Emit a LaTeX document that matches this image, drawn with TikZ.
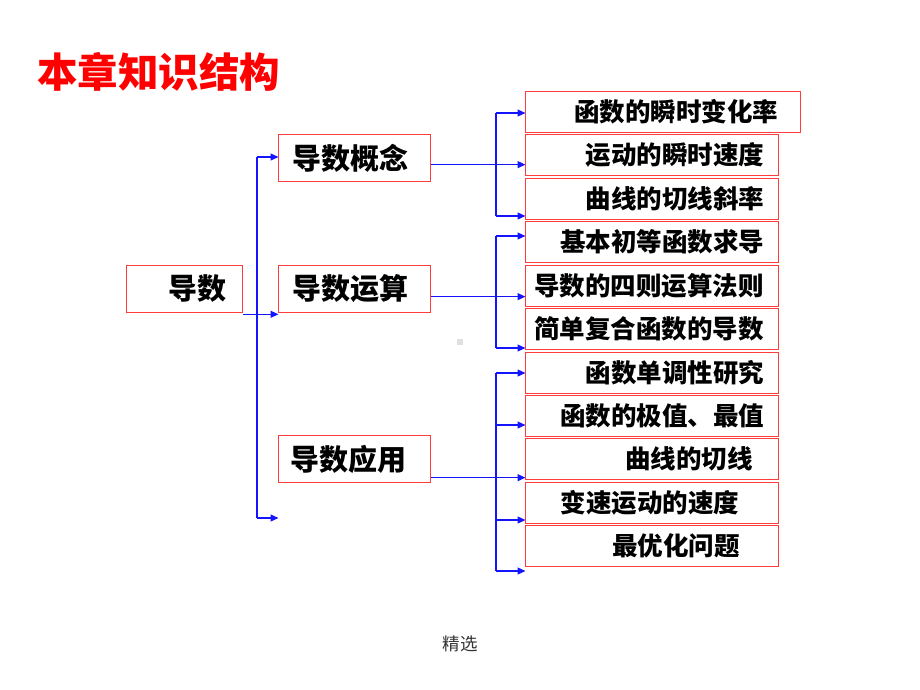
\documentclass[tikz,border=0pt]{standalone}
\usepackage{fontspec}
\setmainfont{Noto Sans CJK SC}
\usetikzlibrary{arrows.meta}
\definecolor{boxred}{RGB}{255,60,60}
\definecolor{lineblue}{RGB}{20,20,255}
\tikzset{
  box/.style={draw=boxred, line width=1.3pt, inner sep=0pt, anchor=north west},
  lbl/.style={inner sep=0pt, font=\bfseries\fontsize{29}{29}\selectfont},
  rlbl/.style={inner sep=0pt, font=\bfseries\fontsize{25.5}{25.5}\selectfont},
  bl/.style={draw=lineblue, line width=1.2pt},
  arr/.style={bl, -{Triangle[length=8pt,width=7pt]}, shorten >=-0.5pt},
}
\begin{document}
\begin{tikzpicture}[x=1pt,y=-1pt]
\useasboundingbox (0,0) rectangle (920,690);
% title
\node[anchor=west, inner sep=0pt, text=red, font=\bfseries\fontsize{40.5}{40.5}\selectfont] (title) at (37,72) {本章知识结构};
% left boxes
\node[box, minimum width=116, minimum height=47] (d) at (126,265) {};
\node[lbl] (dt) at (197,289) {导数};
\node[box, minimum width=152, minimum height=47] (c1) at (278,134) {};
\node[lbl] (c1t) at (350,158) {导数概念};
\node[box, minimum width=152, minimum height=47] (c2) at (278,265) {};
\node[lbl] (c2t) at (350,289) {导数运算};
\node[box, minimum width=152, minimum height=47] (c3) at (278,435) {};
\node[lbl] (c3t) at (348,459) {导数应用};
% right boxes
\node[box, minimum width=275, minimum height=41] (r1) at (525,91) {};
\node[rlbl] (r1t) at (676,112) {函数的瞬时变化率};
\node[box, minimum width=253, minimum height=41] (r2) at (525,134) {};
\node[rlbl] (r2t) at (675,155) {运动的瞬时速度};
\node[box, minimum width=253, minimum height=41] (r3) at (525,178) {};
\node[rlbl] (r3t) at (675,199) {曲线的切线斜率};
\node[box, minimum width=253, minimum height=41] (r4) at (525,221) {};
\node[rlbl] (r4t) at (662,242) {基本初等函数求导};
\node[box, minimum width=253, minimum height=41] (r5) at (525,265) {};
\node[rlbl] (r5t) at (649,286) {导数的四则运算法则};
\node[box, minimum width=253, minimum height=41] (r6) at (525,308) {};
\node[rlbl] (r6t) at (649,329) {简单复合函数的导数};
\node[box, minimum width=253, minimum height=41] (r7) at (525,352) {};
\node[rlbl] (r7t) at (675,373) {函数单调性研究};
\node[box, minimum width=253, minimum height=41] (r8) at (525,395) {};
\node[rlbl] (r8t) at (662,416) {函数的极值、最值};
\node[box, minimum width=253, minimum height=41] (r9) at (525,438) {};
\node[rlbl] (r9t) at (689,459) {曲线的切线};
\node[box, minimum width=253, minimum height=41] (r10) at (525,482) {};
\node[rlbl] (r10t) at (650,503) {变速运动的速度};
\node[box, minimum width=253, minimum height=41] (r11) at (525,525) {};
\node[rlbl] (r11t) at (676,546) {最优化问题};
% footer and mark
\node[inner sep=0pt, font=\fontsize{17.5}{17.5}\selectfont, text=black!80] (foot) at (460,644) {精选};
\fill[black!12] (457,339) rectangle (463,345);
% trunk
\coordinate (ta) at (257,157);
\coordinate (tb) at (257,518);
\coordinate (te) at (278,518);
\draw[bl] (ta) -- (tb);
\draw[arr] (ta) -- (ta -| c1.west);
\draw[arr] ([yshift=-1pt]d.south east) -- ([yshift=-1pt]c2.south west);
\draw[arr] (tb) -- (te);
% group 1
\coordinate (c1o) at ([yshift=-6.5pt]c1.east);
\draw[arr] (c1o) -- (c1o -| r2.west);
\coordinate (g1a) at (496,113);
\coordinate (g1b) at (496,216);
\draw[bl] (g1a) -- (g1b);
\draw[arr] (g1a) -- (g1a -| r1.west);
\draw[arr] (g1b) -- (g1b -| r3.west);
% group 2
\coordinate (c2o) at ([yshift=-7.5pt]c2.east);
\draw[arr] (c2o) -- (c2o -| r5.west);
\coordinate (g2a) at (496,236);
\coordinate (g2b) at (496,348);
\draw[bl] (g2a) -- (g2b);
\draw[arr] (g2a) -- (g2a -| r4.west);
\draw[arr] (g2b) -- (g2b -| r6.west);
% group 3
\coordinate (c3o) at ([yshift=-18.5pt]c3.east);
\draw[arr] (c3o) -- (c3o -| r9.west);
\coordinate (g3a) at (496,373);
\coordinate (g3b) at (496,425);
\coordinate (g3c) at (496,520);
\coordinate (g3d) at (496,571);
\draw[bl] (g3a) -- (g3d);
\draw[arr] (g3a) -- (g3a -| r7.west);
\draw[arr] (g3b) -- (g3b -| r8.west);
\draw[arr] (g3c) -- (g3c -| r10.west);
\draw[arr] (g3d) -- (g3d -| r11.west);
\end{tikzpicture}
\end{document}
